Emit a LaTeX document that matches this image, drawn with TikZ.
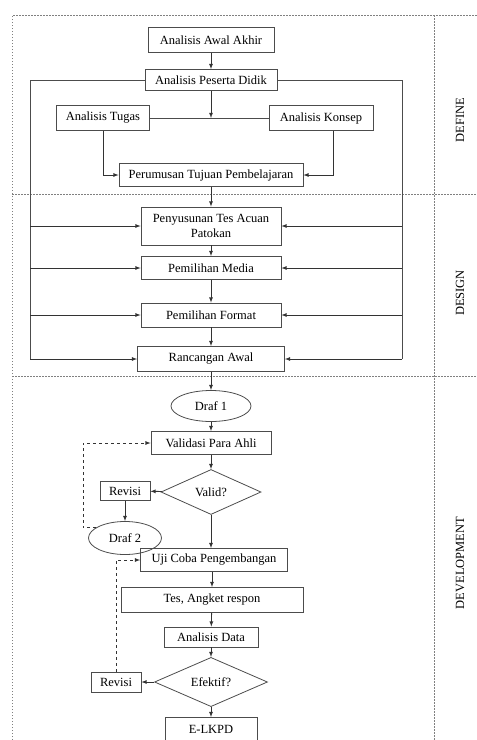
\documentclass[tikz,border=0pt]{standalone}
\usepackage{fontspec}
\setmainfont{Liberation Serif}
\usetikzlibrary{arrows,shapes.geometric}

\begin{document}
\begin{tikzpicture}[x=1pt,y=-1pt,
  font=\fontsize{12.5}{15}\selectfont,
  box/.style={draw=black!70,line width=0.8pt,minimum height=23pt,inner sep=2pt,align=center},
  oval/.style={ellipse,draw=black!70,line width=0.8pt,inner sep=0pt},
  cond/.style={diamond,draw=black!70,line width=0.8pt,inner sep=0pt},
  arr/.style={-latex,black!80,line width=0.8pt},
  rail/.style={black!70,line width=0.8pt},
  fase/.style={gray,line width=0.6pt,dash pattern=on 1.5pt off 1.5pt}]
  \useasboundingbox (0,0) rectangle (477,740);

  % phase frame
  \draw[fase] (12,740) -- (12,15) -- (477,15);
  \draw[fase] (434,15) -- (434,740);
  \draw[fase] (12,194) -- (477,194);
  \draw[fase] (12,376) -- (477,376);
  \node[rotate=90](define)at(460,120){DEFINE};
  \node[rotate=90](design)at(460,293){DESIGN};
  \node[rotate=90](develop)at(460,563){DEVELOPMENT};

  % define
  \node[box,minimum width=126pt,minimum height=25pt](awal)at(211,40){Analisis Awal Akhir};
  \node[box,minimum width=132pt,minimum height=21pt](peserta)at(211,80){Analisis Peserta Didik};
  \node[box,minimum width=93pt,minimum height=25pt](tugas)at(103,118){Analisis Tugas};
  \node[box,minimum width=104pt,minimum height=25pt](konsep)at(321,118){Analisis Konsep};
  \node[box,minimum width=184pt](tujuan)at(211,175){Perumusan Tujuan Pembelajaran};
  \coordinate (jn) at (211,118);

  % design
  \node[box,minimum width=140pt,minimum height=38pt](tes)at(211,226){Penyusunan Tes Acuan\\Patokan};
  \node[box,minimum width=140pt](media)at(211,268){Pemilihan Media};
  \node[box,minimum width=140pt,minimum height=24pt](format)at(211,315){Pemilihan Format};
  \node[box,minimum width=147pt,minimum height=25pt](rancangan)at(211,359){Rancangan Awal};
  \coordinate (lb) at (30,359);
  \coordinate (rb) at (402,359);

  % development
  \node[oval,minimum width=80pt,minimum height=31pt](draf1)at(211,406){Draf 1};
  \node[box,minimum width=120pt](validasi)at(211,443){Validasi Para Ahli};
  \node[cond,minimum width=100pt,minimum height=45pt](valid)at(211,492){Valid?};
  \node[box,minimum width=50pt,minimum height=19pt](revisia)at(125,491){Revisi};
  \node[oval,minimum width=73pt,minimum height=33pt](drafb)at(125,538){Draf 2};
  \node[box,minimum width=147pt](uji)at(214,560){Uji Coba Pengembangan};
  \node[box,minimum width=182pt,minimum height=25pt](angket)at(212,600){Tes, Angket respon};
  \node[box,minimum width=94pt,minimum height=20pt](data)at(211,637){Analisis Data};
  \node[cond,minimum width=113pt,minimum height=46pt](efektif)at(211,682){Efektif?};
  \node[box,minimum width=50pt,minimum height=20pt](revisib)at(116,682){Revisi};
  \node[box,minimum width=92pt](elkpd)at(211,729){E-LKPD};
  \coordinate (loop) at (83,443);

  \draw[arr](awal)--(peserta);
  \draw[arr](peserta)--(jn);
  \draw[rail](tugas)--(konsep);
  \draw[arr](tugas.south)|-(tujuan.west);
  \draw[arr]([xshift=12pt]konsep.south)|-(tujuan.east);
  \draw[rail](peserta.west)-|(lb);
  \draw[rail](peserta.east)-|(rb);
  \foreach \n in {tes,media,format,rancangan}{
    \draw[arr](lb|-\n.west)--(\n.west);
    \draw[arr](rb|-\n.east)--(\n.east);
  }
  \foreach \a/\b in {tujuan/tes,tes/media,media/format,format/rancangan,rancangan/draf1,
    draf1/validasi,validasi/valid,angket/data,data/efektif,efektif/elkpd}
    \draw[arr](\a)--(\b);
  \draw[arr](valid.south)--(valid.south|-uji.north);
  \draw[arr](uji.south-|angket.north)--(angket.north);
  \draw[arr](valid)--(revisia);
  \draw[arr](revisia)--(drafb);
  \draw[arr](efektif)--(revisib);
  \draw[arr,dashed](drafb.160)-|(loop)--(validasi.west);
  \draw[arr,dashed](revisib.north)|-(uji.west);
\end{tikzpicture}
\end{document}
